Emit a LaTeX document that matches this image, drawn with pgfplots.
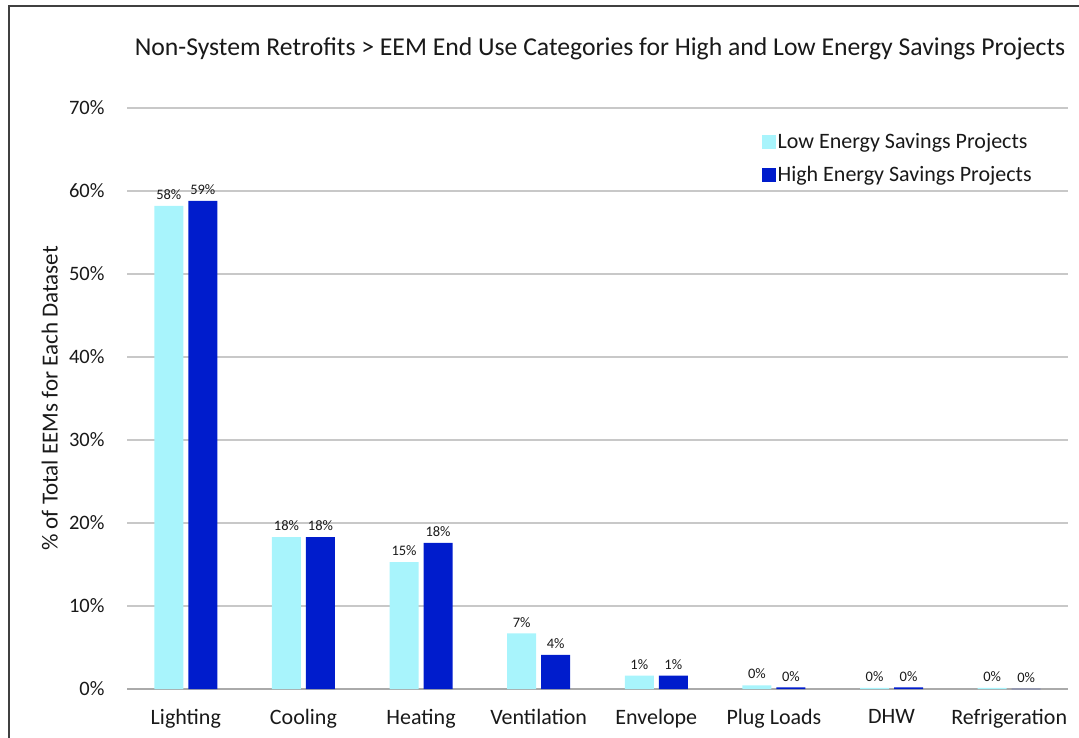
\documentclass[border=0pt]{standalone}
\usepackage{pgfplots}
\pgfplotsset{compat=1.18}
\usepackage{pgfplotstable}
\usepackage{fontspec}
\setmainfont{Carlito}
\definecolor{lowc}{RGB}{168,244,252}
\definecolor{highc}{RGB}{0,28,204}
\definecolor{gridc}{RGB}{200,200,200}
\pgfplotstableread{
x low lowlab high highlab
0 58.2 58 58.8 59
1 18.3 18 18.3 18
2 15.3 15 17.6 18
3 6.7 7 4.1 4
4 1.6 1 1.6 1
5 0.45 0 0.2 0
6 0.15 0 0.2 0
7 0.15 0 0.02 0
}\data
\begin{document}
\begin{tikzpicture}
\path[use as bounding box] (0bp,0bp) rectangle (1079bp,738bp);
\draw[line width=2.5bp,color=black!75] (9bp,0bp) -- (9bp,732bp) -- (1079bp,732bp);
\node[anchor=base,font=\fontsize{25.7bp}{30bp}\selectfont,text=black!90] at (600bp,682bp) {Non-System Retrofits > EEM End Use Categories for High and Low Energy Savings Projects};
\begin{axis}[
  at={(127bp,49bp)}, anchor=south west,
  width=941bp, height=581bp, scale only axis,
  ybar=5bp, bar width=29bp,
  xmin=-0.5, xmax=7.5, ymin=0, ymax=70,
  ytick={0,10,...,70},
  yticklabel={\pgfmathprintnumber{\tick}\%},
  /pgf/number format/assume math mode=true,
  xtick={0,...,7},
  xticklabels={Lighting,Cooling,Heating,Ventilation,Envelope,Plug Loads,DHW,Refrigeration},
  major tick length=0pt,
  axis line style={draw=none},
  ymajorgrids, grid style={gridc, line width=1.3bp},
  yticklabel style={font=\fontsize{20.5bp}{24bp}\selectfont, text=black!90, xshift=-19bp},
  xticklabel style={font=\fontsize{22bp}{26bp}\selectfont, text=black!90, yshift=-17bp},
  ylabel={\% of Total EEMs for Each Dataset},
  every axis y label/.style={at={(axis description cs:-0.082,0.5)}, rotate=90, anchor=center,
    font=\fontsize{23bp}{27bp}\selectfont, text=black!90},
  legend style={draw=none, fill=none, at={(0.671,0.963)}, anchor=north west,
    font=\fontsize{22bp}{26bp}\selectfont, text=black!90, row sep=12bp},
  legend cell align=left,
  legend image code/.code={\fill[#1] (0bp,-7bp) rectangle (14bp,7bp);},
  nodes near coords={\pgfplotspointmeta\%},
  point meta=explicit symbolic,
  nodes near coords style={font=\fontsize{14.5bp}{17bp}\selectfont, text=black!90, anchor=south, inner sep=2bp, yshift=4bp},
]
\draw[gridc!85!black, line width=1.8bp] (axis cs:-0.5,0) -- (axis cs:7.5,0);
\addplot[fill=lowc, draw=none] table[x=x, y=low, meta=lowlab] {\data};
\addplot[fill=highc, draw=none] table[x=x, y=high, meta=highlab] {\data};
\legend{Low Energy Savings Projects, High Energy Savings Projects}
\end{axis}
\end{tikzpicture}
\end{document}
